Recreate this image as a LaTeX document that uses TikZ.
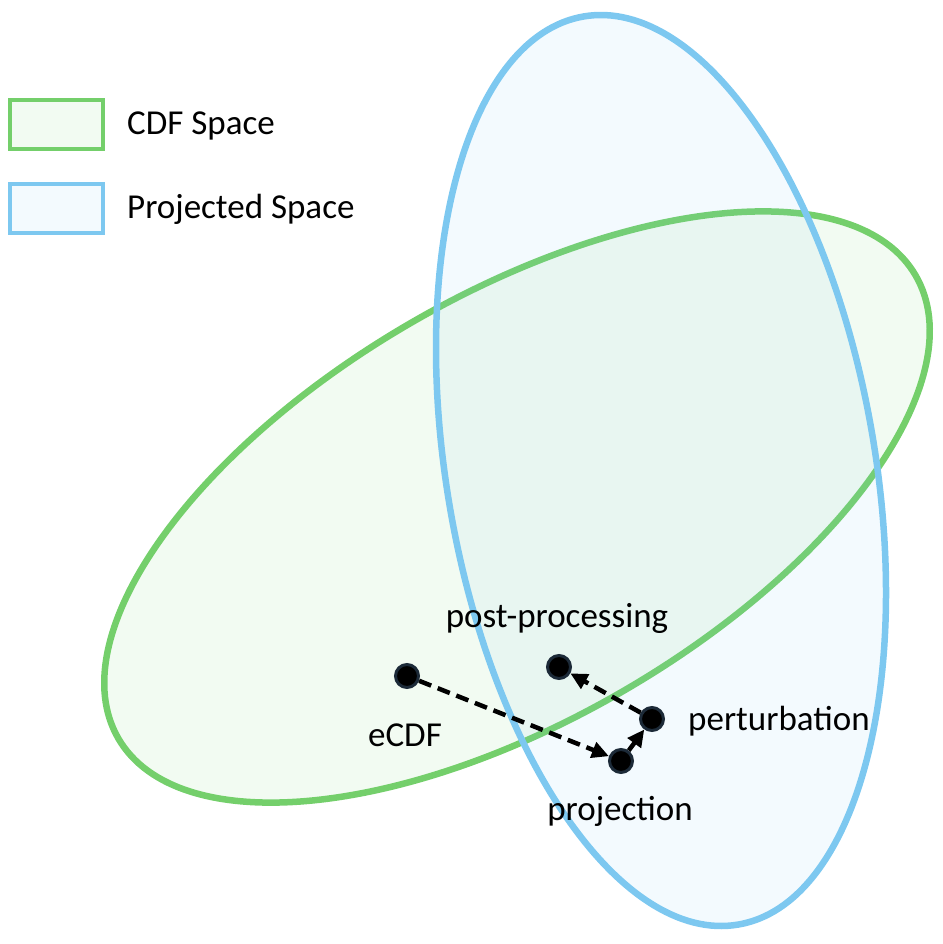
\documentclass[tikz,border=0pt]{standalone}
\usepackage{fontspec}
\setmainfont{Carlito}
\usetikzlibrary{arrows.meta}

\definecolor{cdfgreen}{HTML}{74CF6B}
\definecolor{projblue}{HTML}{7DC8F0}
\definecolor{dotrim}{HTML}{1C2A38}

\tikzset{
    space/.style={line width=6.5pt, fill opacity=0.09},
    key/.style={line width=4pt, fill opacity=0.09, minimum width=93pt, minimum height=49pt, inner sep=0pt},
    dot/.style={circle, fill=black, draw=dotrim, line width=3pt, inner sep=0pt, minimum size=23pt},
    txt/.style={font=\fontsize{35}{42}\selectfont, inner sep=0pt},
    move/.style={-{Triangle[length=17pt, width=16pt]}, line width=4.5pt, dash pattern=on 13pt off 7pt}
}

\begin{document}
\begin{tikzpicture}[x=1pt, y=-1pt]
    \useasboundingbox (0,0) rectangle (942,944);

    % the two spaces
    \draw[space, draw=cdfgreen, fill=cdfgreen, rotate around={30.15:(517,507)}] (517,507) ellipse (461 and 212.5);
    \draw[space, draw=projblue, fill=projblue, rotate around={-80.34:(661,470.5)}] (661,470.5) ellipse (460.6 and 214.3);

    % legend
    \node[key, draw=cdfgreen, fill=cdfgreen] (cdfkey) at (56.5,124.5) {};
    \node[key, draw=projblue, fill=projblue] (projkey) at (56.5,208.5) {};
    \node[txt, anchor=base west] (cdftext) at (127,135) {CDF Space};
    \node[txt, anchor=base west] (projtext) at (127,218) {Projected Space};

    % points
    \node[dot] (ecdf) at (407,676) {};
    \node[dot] (post) at (559,667) {};
    \node[dot] (pert) at (652,719) {};
    \node[dot] (proj) at (621,761) {};

    \node[txt, anchor=base] (ecdflabel) at (405,746) {eCDF};
    \node[txt, anchor=base] (postlabel) at (557,627) {post-processing};
    \node[txt, anchor=base west] (pertlabel) at (688,730) {perturbation};
    \node[txt, anchor=base] (projlabel) at (620,820) {projection};

    % steps
    \draw[move] (ecdf) -- (proj);
    \draw[move] (proj) -- (pert);
    \draw[move] (pert) -- (post);
\end{tikzpicture}
\end{document}
